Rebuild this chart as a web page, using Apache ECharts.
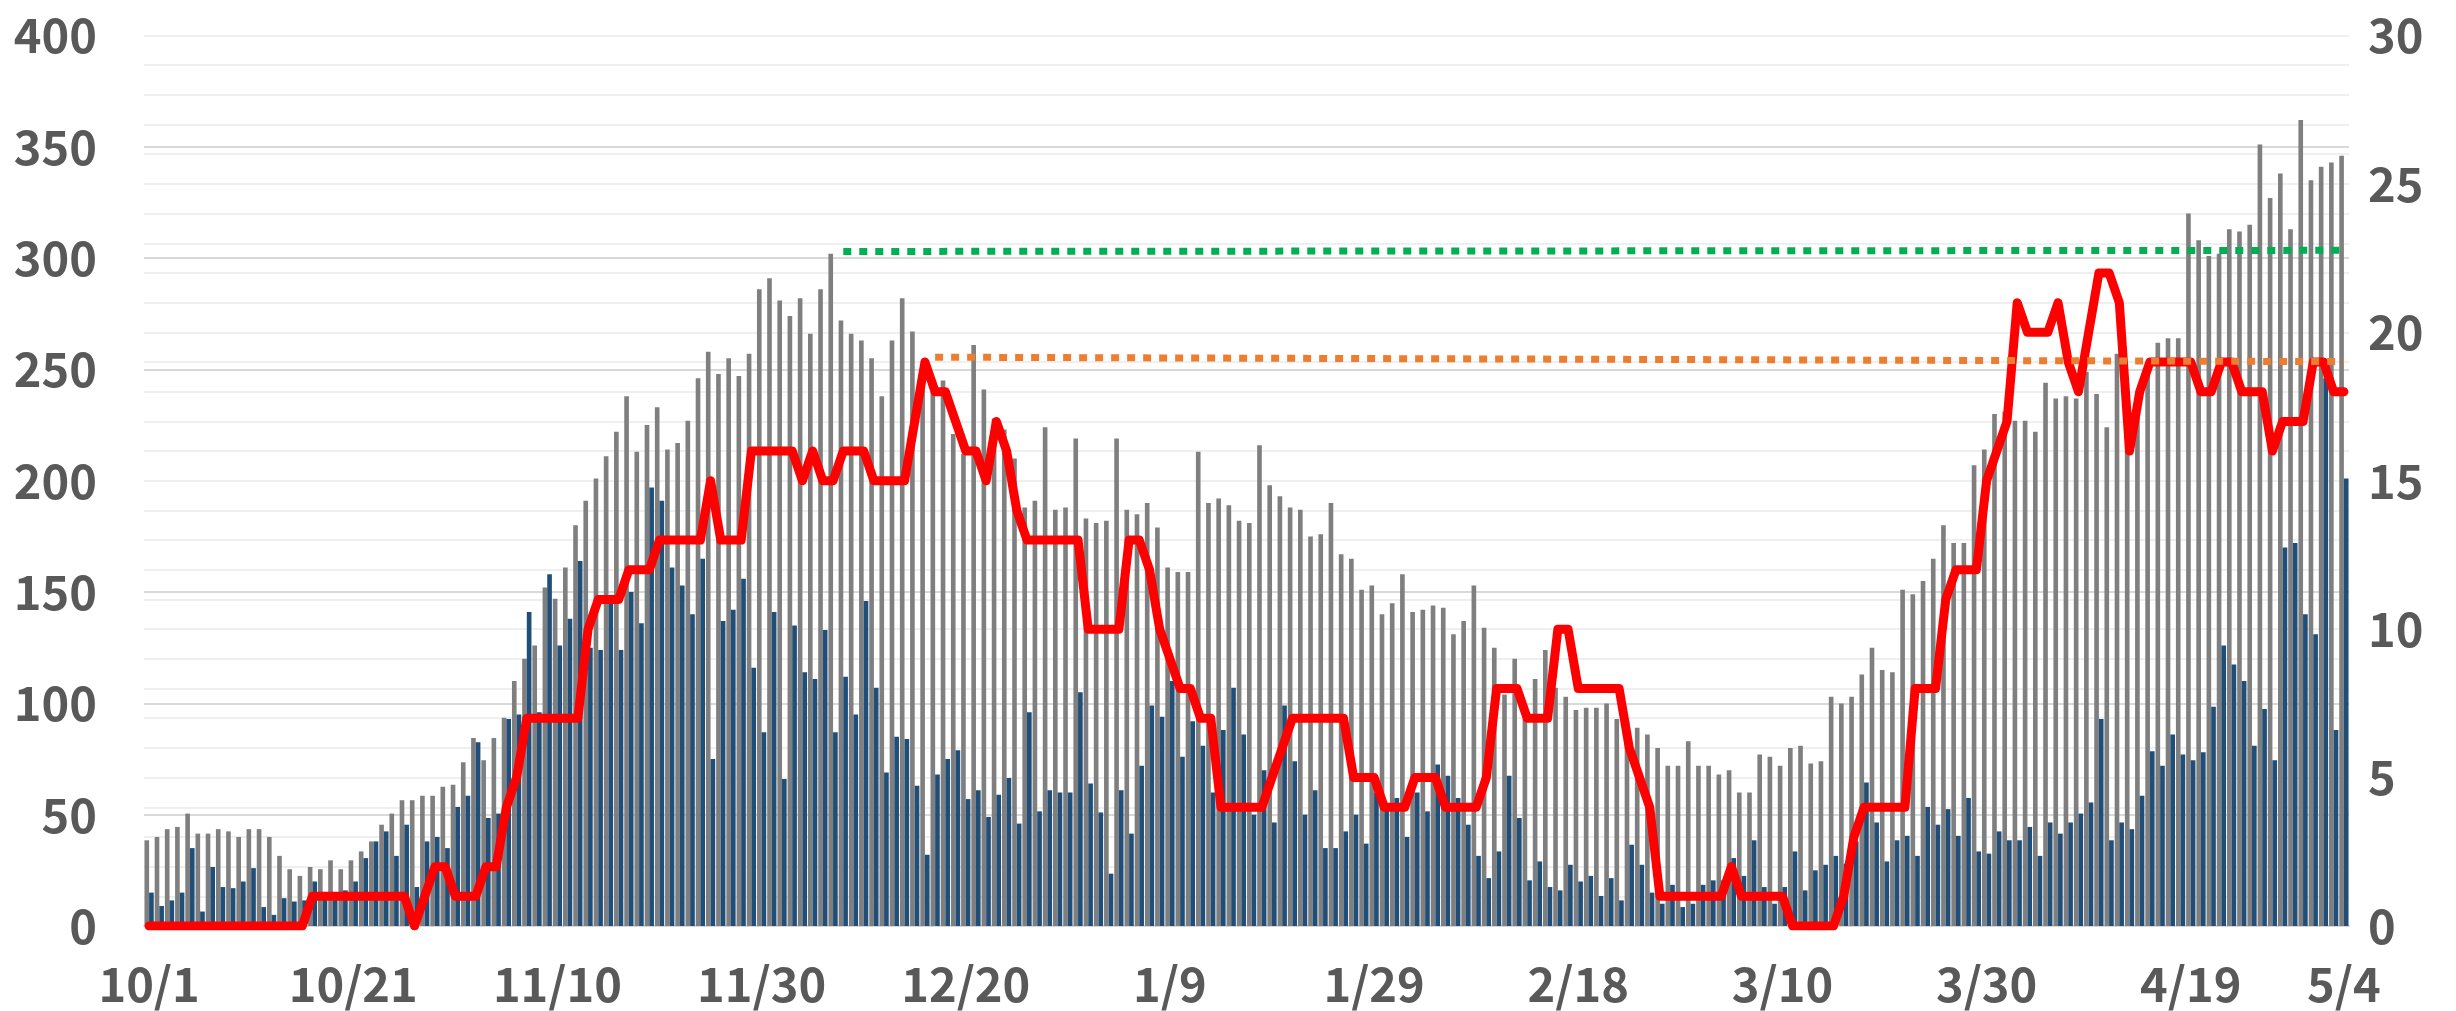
<!DOCTYPE html>
<html>
<head>
<meta charset="utf-8">
<script src="https://cdn.jsdelivr.net/npm/echarts@6/dist/echarts.min.js"></script>
<style>
  html, body { margin: 0; padding: 0; background: #fff; }
  #chart { width: 2456px; height: 1011px; }
</style>
</head>
<body>
<div id="chart"></div>
<script>
// daily categories 2020/10/1 .. 2021/5/4
const startDate = new Date(2020, 9, 1);
const dayCount = 216;
const dates = [];
for (let i = 0; i < dayCount; i++) {
  const d = new Date(startDate.getFullYear(), startDate.getMonth(), startDate.getDate() + i);
  dates.push((d.getMonth() + 1) + '/' + d.getDate());
}
const tickLabels = ['10/1', '10/21', '11/10', '11/30', '12/20', '1/9', '1/29', '2/18', '3/10', '3/30', '4/19', '5/4'];

// gray bars (left axis)
const totalValues = [
  38.5, 40, 43.5, 44.5, 50.5, 41.5, 41.5, 43.5, 42.5, 40,
  43.5, 43.5, 40, 31.5, 25.5, 22.5, 26.5, 25.5, 29.5, 25.5,
  29.5, 33.5, 38, 45.5, 50.5, 56.5, 56.5, 58.5, 58.5, 62.5,
  63.5, 73.5, 84.5, 74.5, 84.5, 93.5, 110, 120, 126, 152,
  147, 161, 180, 191, 201, 211, 222, 238, 213, 225,
  233, 214, 217, 227, 246, 258, 248, 255, 247, 257,
  286, 291, 281, 274, 282, 266, 286, 302, 272, 266,
  263, 255, 238, 263, 282, 267, 248, 246, 245, 221,
  212, 261, 241, 228, 223, 210, 188, 191, 224, 187,
  188, 219, 183, 181, 182, 219, 187, 185, 190, 179,
  161, 159, 159, 213, 190, 192, 189, 182, 181, 216,
  198, 193, 188, 187, 175, 176, 190, 167, 165, 151,
  153, 140, 145, 158, 141, 142, 144, 143, 131, 137,
  153, 134, 125, 104, 120, 93, 111, 124, 107, 103,
  97, 98, 98, 100, 93, 92, 89, 86, 80, 72,
  72, 83, 72, 72, 68, 70, 60, 60, 77, 76,
  72, 80, 81, 73, 74, 103, 100, 103, 113, 125,
  115, 114, 151, 149, 155, 165, 180, 172, 172, 207,
  214, 230, 231, 227, 227, 222, 244, 237, 238, 237,
  249, 239, 224, 257, 225, 240, 249, 262, 264, 264,
  320, 308, 301, 302, 313, 312, 315, 351, 327, 338,
  313, 362, 335, 341, 343, 346
];

// dark blue bars (left axis)
const subsetValues = [
  15, 9, 11.5, 15, 35, 6.5, 26.5, 17.5, 17, 20,
  26, 8.5, 5, 12.5, 11, 11.5, 20, 15, 12, 16,
  20, 30.5, 38, 42.5, 31.5, 45.5, 17.5, 38, 40, 35,
  53.5, 58.5, 82.5, 48.5, 50.5, 93, 95, 141, 96, 158,
  126, 138, 164, 125, 124, 145, 124, 150, 136, 197,
  191, 161, 153, 140, 165, 75, 137, 142, 156, 116,
  87, 141, 66, 135, 114, 111, 133, 87, 112, 95,
  146, 107, 69, 85, 84, 63, 32, 68, 75, 79,
  57, 61, 49, 59, 66.5, 46, 96, 51.5, 61, 60,
  60, 105, 64, 51, 23.5, 61, 41.5, 72, 99, 94,
  110, 76, 92, 81, 60, 88, 107, 86, 50, 70,
  46.5, 99, 74, 50, 61, 35, 35, 42.5, 50, 37,
  60, 52, 57.5, 40, 60, 51.5, 72.5, 67.5, 57.5, 45.5,
  31.5, 21.5, 33.5, 67.5, 48.5, 20.5, 29, 17.5, 16, 27.5,
  20, 22.5, 13.5, 21.5, 11.5, 36.5, 27.5, 15, 10, 18.5,
  8.5, 10, 18.5, 20.5, 20.5, 30.5, 22.5, 38.5, 17.5, 10,
  17.5, 33.5, 16, 25, 27.5, 31.5, 28, 38, 64.5, 46.5,
  29, 38.5, 40.5, 31.5, 53.5, 45.5, 52.5, 40.5, 57.5, 33.5,
  32.5, 42.5, 38.5, 38.5, 44.5, 31.5, 46.5, 41.5, 46.5, 50.5,
  55.5, 93, 38.5, 46.5, 43.5, 58.5, 78.5, 72, 86, 77,
  74.5, 78, 98.5, 126, 117.5, 110, 81, 97.5, 74.5, 170,
  172, 140, 131, 246, 88, 201
];

// red line (right axis)
const redValues = [
  0, 0, 0, 0, 0, 0, 0, 0, 0, 0,
  0, 0, 0, 0, 0, 0, 1, 1, 1, 1,
  1, 1, 1, 1, 1, 1, 0, 1, 2, 2,
  1, 1, 1, 2, 2, 4, 5, 7, 7, 7,
  7, 7, 7, 10, 11, 11, 11, 12, 12, 12,
  13, 13, 13, 13, 13, 15, 13, 13, 13, 16,
  16, 16, 16, 16, 15, 16, 15, 15, 16, 16,
  16, 15, 15, 15, 15, 17, 19, 18, 18, 17,
  16, 16, 15, 17, 16, 14, 13, 13, 13, 13,
  13, 13, 10, 10, 10, 10, 13, 13, 12, 10,
  9, 8, 8, 7, 7, 4, 4, 4, 4, 4,
  5, 6, 7, 7, 7, 7, 7, 7, 5, 5,
  5, 4, 4, 4, 5, 5, 5, 4, 4, 4,
  4, 5, 8, 8, 8, 7, 7, 7, 10, 10,
  8, 8, 8, 8, 8, 6, 5, 4, 1, 1,
  1, 1, 1, 1, 1, 2, 1, 1, 1, 1,
  1, 0, 0, 0, 0, 0, 1, 3, 4, 4,
  4, 4, 4, 8, 8, 8, 11, 12, 12, 12,
  15, 16, 17, 21, 20, 20, 20, 21, 19, 18,
  20, 22, 22, 21, 16, 18, 19, 19, 19, 19,
  19, 18, 18, 19, 19, 18, 18, 18, 16, 17,
  17, 17, 19, 19, 18, 18
];

// reference levels (left axis): [startIndex, startValue, endIndex, endValue]
const greenLevel = [68, 303, 215, 303.5];
const orangeLevel = [77, 255.5, 215, 253.5];

function levelSeries(level) {
  const arr = dates.map(() => '-');
  arr[level[0]] = level[1];
  arr[level[2]] = level[3];
  return arr;
}

const labelFont = {
  color: '#595959',
  fontSize: 47,
  fontFamily: 'Noto Sans CJK JP',
  fontWeight: 'bold'
};

const chart = echarts.init(document.getElementById('chart'));
chart.setOption({
  animation: false,
  grid: { left: 144, right: 107, top: 35.5, bottom: 85 },
  xAxis: {
    type: 'category',
    data: dates,
    axisTick: { show: false },
    axisLine: { lineStyle: { color: '#d9d9d9', width: 2 } },
    axisLabel: Object.assign({
      margin: 35,
      interval: (idx, val) => tickLabels.indexOf(val) >= 0
    }, labelFont)
  },
  yAxis: [
    {
      type: 'value',
      min: 0, max: 400, interval: 50,
      axisLine: { show: false },
      axisTick: { show: false },
      axisLabel: Object.assign({ margin: 47 }, labelFont),
      splitLine: { lineStyle: { color: '#d9d9d9', width: 2 } }
    },
    {
      type: 'value',
      min: 0, max: 30, interval: 1,
      axisLine: { show: false },
      axisTick: { show: false },
      axisLabel: Object.assign({
        margin: 19,
        formatter: (v) => (v % 5 === 0 ? String(v) : '')
      }, labelFont),
      splitLine: { lineStyle: { color: '#efefef', width: 2 } }
    }
  ],
  series: [
    {
      type: 'bar',
      data: totalValues,
      itemStyle: { color: '#7f7f7f' },
      barGap: '0%',
      barCategoryGap: '9%'
    },
    {
      type: 'bar',
      data: subsetValues,
      itemStyle: { color: '#1f4e79' }
    },
    {
      type: 'line',
      yAxisIndex: 1,
      data: redValues,
      showSymbol: false,
      symbol: 'none',
      lineStyle: { color: '#ff0000', width: 9, join: 'round', cap: 'round' },
      z: 3
    },
    {
      type: 'line',
      data: levelSeries(orangeLevel),
      connectNulls: true,
      symbol: 'none',
      lineStyle: { color: '#ed7d31', width: 7, type: [8, 8] },
      z: 4
    },
    {
      type: 'line',
      data: levelSeries(greenLevel),
      connectNulls: true,
      symbol: 'none',
      lineStyle: { color: '#00b050', width: 7, type: [8, 8] },
      z: 4
    }
  ]
});
</script>
</body>
</html>
